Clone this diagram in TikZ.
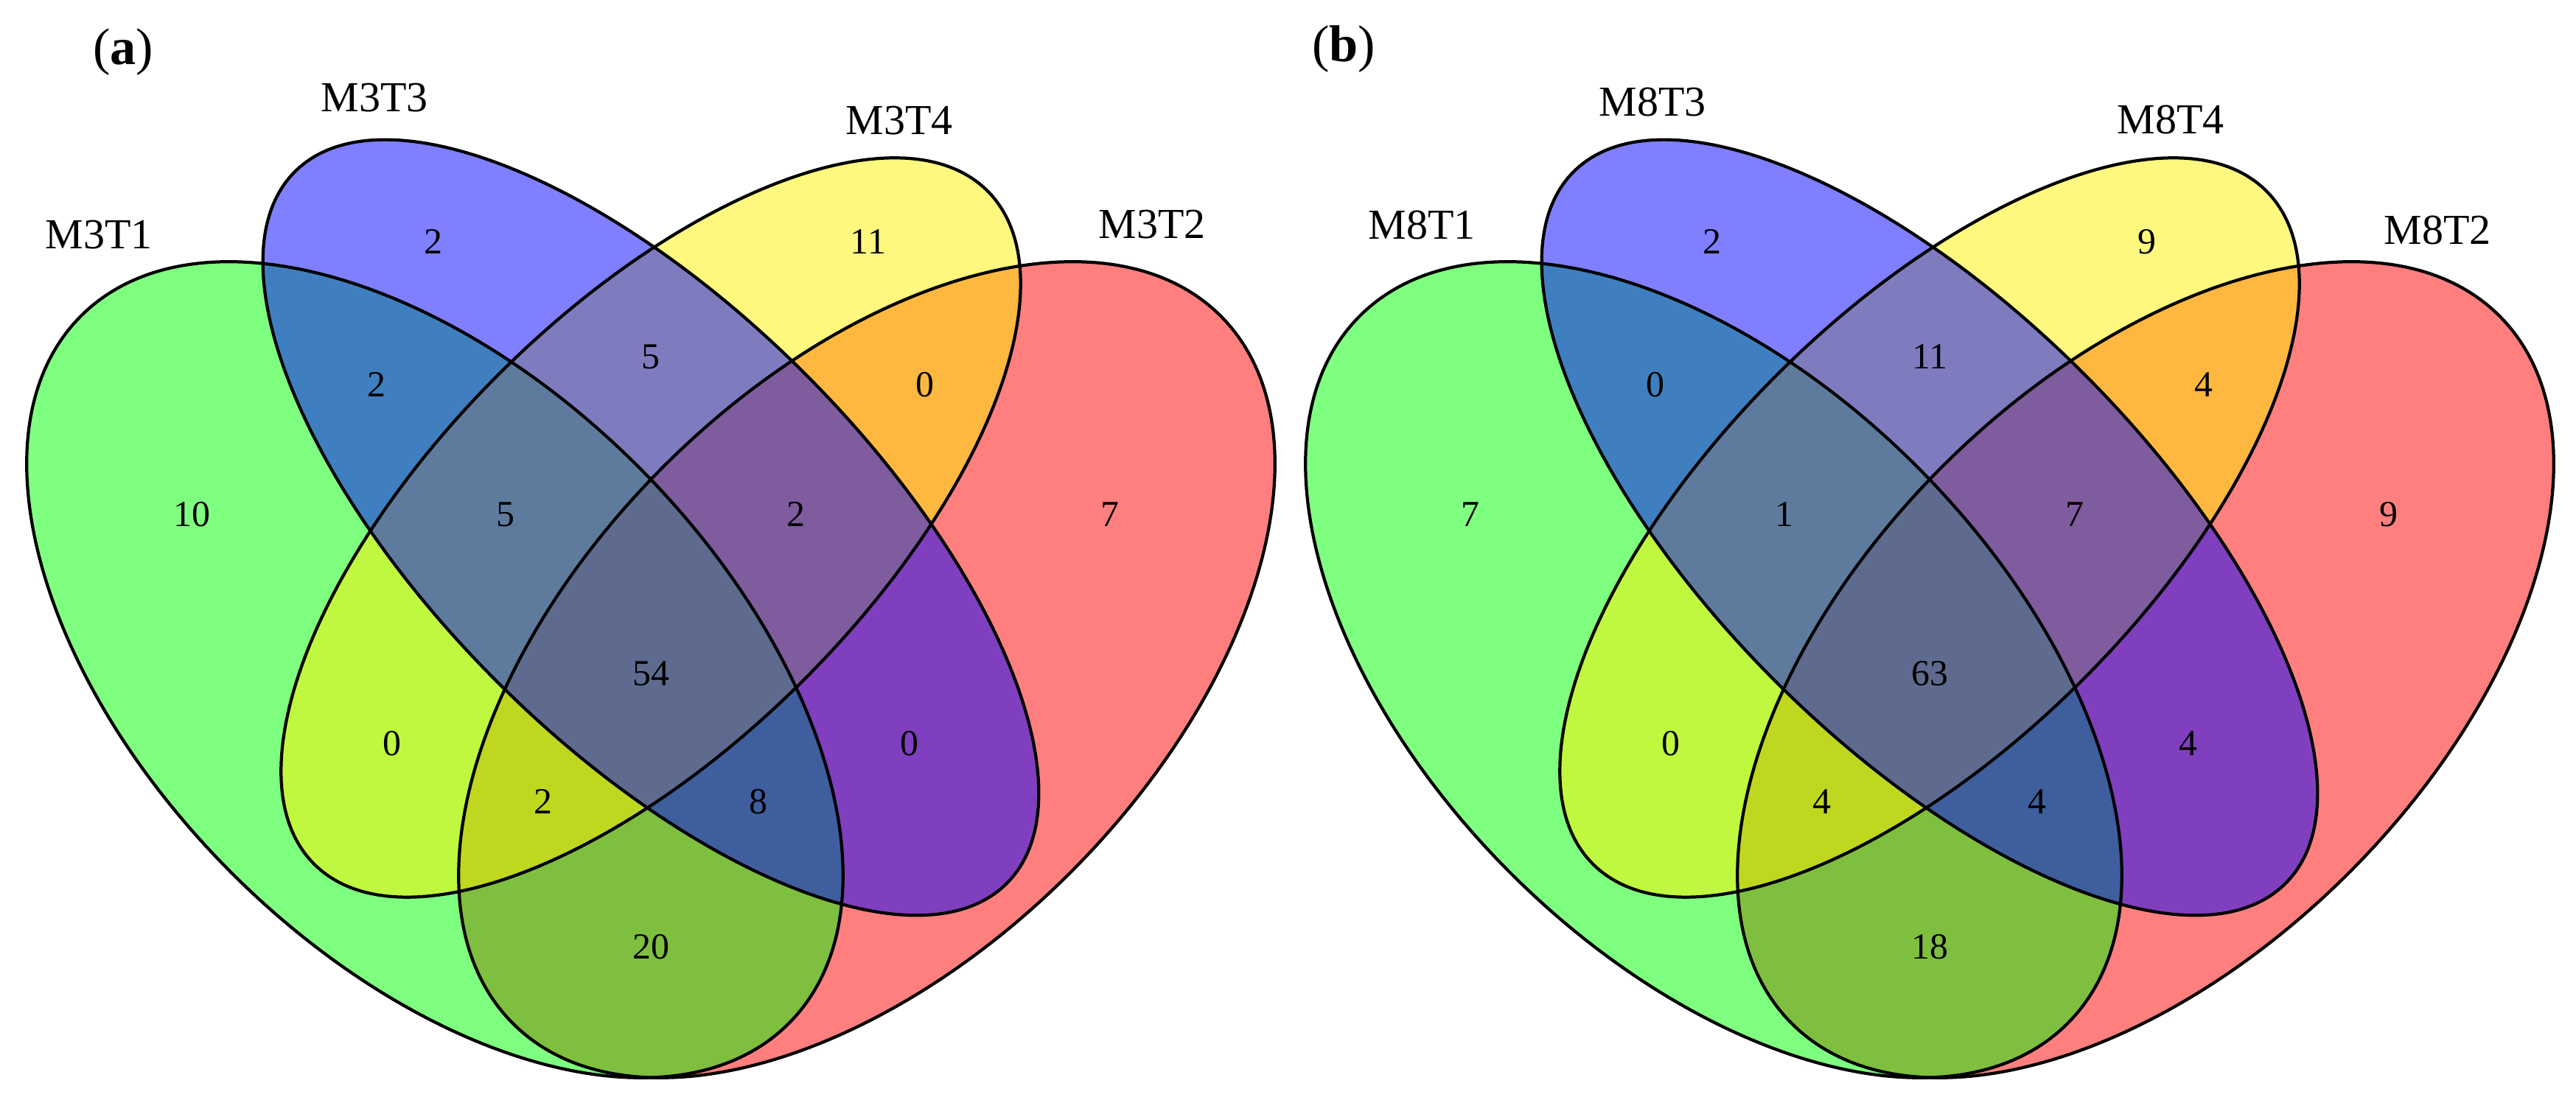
\documentclass[tikz,border=0pt]{standalone}
\usepackage{fontspec}
\setmainfont{Liberation Serif}
\begin{document}
\begin{tikzpicture}[
    setline/.style={draw=black, line width=1.2pt},
    setfill/.style={fill=#1, fill opacity=0.5},
    count/.style={font=\fontsize{14.2}{16}\selectfont, inner sep=0pt},
    setname/.style={font=\fontsize{16.5}{19}\selectfont, inner sep=0pt},
    panel/.style={font=\fontsize{20}{24}\selectfont, inner sep=0pt}
]
    \useasboundingbox (0,0) rectangle (34.95,14.93);

    % Panel (a): fills, red first and blue last
    \fill[setfill=red] (11.76,5.84) ellipse [x radius=6.79, y radius=3.90, rotate=45];
    \fill[setfill=green] (5.90,5.84) ellipse [x radius=6.79, y radius=3.90, rotate=-45];
    \fill[setfill=yellow] (8.83,7.77) ellipse [x radius=6.46, y radius=2.93, rotate=45];
    \fill[setfill=blue] (8.83,7.77) ellipse [x radius=6.83, y radius=2.955, rotate=-45];

    % Panel (a): outlines
    \draw[setline] (11.76,5.84) ellipse [x radius=6.79, y radius=3.90, rotate=45];
    \draw[setline] (5.90,5.84) ellipse [x radius=6.79, y radius=3.90, rotate=-45];
    \draw[setline] (8.83,7.77) ellipse [x radius=6.46, y radius=2.93, rotate=45];
    \draw[setline] (8.83,7.77) ellipse [x radius=6.83, y radius=2.955, rotate=-45];

    % Panel (a): title and set names
    \node[panel] (titleA) at (1.67,14.22) {(\textbf{a})};
    \node[setname] (nameM3T1) at (1.34,11.74) {M3T1};
    \node[setname] (nameM3T3) at (5.08,13.60) {M3T3};
    \node[setname] (nameM3T4) at (12.20,13.29) {M3T4};
    \node[setname] (nameM3T2) at (15.63,11.88) {M3T2};

    % Panel (a): counts
    \node[count] (a3) at (5.88,11.65) {2};
    \node[count] (a4) at (11.78,11.65) {11};
    \node[count] (a1) at (2.60,7.95) {10};
    \node[count] (a2) at (15.06,7.95) {7};
    \node[count] (a13) at (5.11,9.71) {2};
    \node[count] (a34) at (8.83,10.09) {5};
    \node[count] (a24) at (12.55,9.71) {0};
    \node[count] (a134) at (6.86,7.95) {5};
    \node[count] (a234) at (10.80,7.95) {2};
    \node[count] (a14) at (5.32,4.84) {0};
    \node[count] (a1234) at (8.83,5.79) {54};
    \node[count] (a23) at (12.34,4.84) {0};
    \node[count] (a124) at (7.37,4.05) {2};
    \node[count] (a123) at (10.29,4.05) {8};
    \node[count] (a12) at (8.83,2.08) {20};

    \begin{scope}[xshift=17.35cm]
    % Panel (b): fills, red first and blue last
    \fill[setfill=red] (11.76,5.84) ellipse [x radius=6.79, y radius=3.90, rotate=45];
    \fill[setfill=green] (5.90,5.84) ellipse [x radius=6.79, y radius=3.90, rotate=-45];
    \fill[setfill=yellow] (8.83,7.77) ellipse [x radius=6.46, y radius=2.93, rotate=45];
    \fill[setfill=blue] (8.83,7.77) ellipse [x radius=6.83, y radius=2.955, rotate=-45];

    % Panel (b): outlines
    \draw[setline] (11.76,5.84) ellipse [x radius=6.79, y radius=3.90, rotate=45];
    \draw[setline] (5.90,5.84) ellipse [x radius=6.79, y radius=3.90, rotate=-45];
    \draw[setline] (8.83,7.77) ellipse [x radius=6.46, y radius=2.93, rotate=45];
    \draw[setline] (8.83,7.77) ellipse [x radius=6.83, y radius=2.955, rotate=-45];

    % Panel (b): title and set names
    \node[panel] (titleB) at (0.88,14.26) {(\textbf{b})};
    \node[setname] (nameM8T1) at (1.94,11.87) {M8T1};
    \node[setname] (nameM8T3) at (5.07,13.54) {M8T3};
    \node[setname] (nameM8T4) at (12.10,13.30) {M8T4};
    \node[setname] (nameM8T2) at (15.72,11.80) {M8T2};

    % Panel (b): counts
    \node[count] (b3) at (5.88,11.65) {2};
    \node[count] (b4) at (11.78,11.65) {9};
    \node[count] (b1) at (2.60,7.95) {7};
    \node[count] (b2) at (15.06,7.95) {9};
    \node[count] (b13) at (5.11,9.71) {0};
    \node[count] (b34) at (8.83,10.09) {11};
    \node[count] (b24) at (12.55,9.71) {4};
    \node[count] (b134) at (6.86,7.95) {1};
    \node[count] (b234) at (10.80,7.95) {7};
    \node[count] (b14) at (5.32,4.84) {0};
    \node[count] (b1234) at (8.83,5.79) {63};
    \node[count] (b23) at (12.34,4.84) {4};
    \node[count] (b124) at (7.37,4.05) {4};
    \node[count] (b123) at (10.29,4.05) {4};
    \node[count] (b12) at (8.83,2.08) {18};
    \end{scope}
\end{tikzpicture}
\end{document}
